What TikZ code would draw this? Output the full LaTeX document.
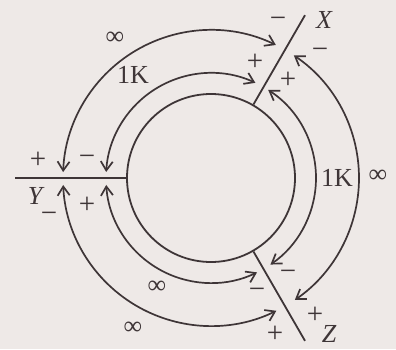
\documentclass[tikz,border=0pt]{standalone}
\usepackage{fontspec}
\setmainfont{Liberation Serif}
\usetikzlibrary{arrows.meta}
\definecolor{ink}{HTML}{3E3537}
\definecolor{paper}{HTML}{EEE9E7}

\begin{document}
\begin{tikzpicture}[
  x=1pt,y=1pt,
  wire/.style={draw=ink,line width=1.8pt},
  dbl/.style={draw=ink,line width=1.7pt,{Straight Barb[length=9pt,width=12pt]}-{Straight Barb[length=9pt,width=12pt]}},
  lab/.style={text=ink,inner sep=0pt,font=\fontsize{26}{30}\selectfont},
  sgn/.style={text=ink,inner sep=0pt,font=\fontsize{29}{32}\selectfont}
]
\fill[paper] (-211,-171) rectangle (185,178);
\useasboundingbox (-211,-171) rectangle (185,178);
% ring and the three terminals
\node[wire,circle,minimum size=168pt,inner sep=0pt] (ring) at (0,0) {};
\draw[wire] (ring.60) -- (60:188pt) coordinate (xend);
\draw[wire] (ring.180) -- (180:196pt) coordinate (yend);
\draw[wire] (ring.-60) -- (-60:188pt) coordinate (zend);
% arc ends
\coordinate (xyo) at (64:148pt);
\coordinate (xyi) at (65:105pt);
\coordinate (xzo) at (56:148pt);
\coordinate (xzi) at (57:105pt);
\coordinate (yzo) at (-177.3:148pt);
\coordinate (yzi) at (-176.2:105pt);
% X to Y
\draw[dbl] (xyo) arc[start angle=64,end angle=177.7,radius=148pt];
\draw[dbl] (xyi) arc[start angle=65,end angle=176.7,radius=105pt];
% X to Z
\draw[dbl] (xzo) arc[start angle=56,end angle=-55.5,radius=148pt];
\draw[dbl] (xzi) arc[start angle=57,end angle=-55.5,radius=105pt];
% Y to Z
\draw[dbl] (yzo) arc[start angle=-177.3,end angle=-63.8,radius=148pt];
\draw[dbl] (yzi) arc[start angle=-176.2,end angle=-64,radius=105pt];
% values
\node[lab] (xyinf) at (-96,140) {∞};
\node[lab] (xyk) at (-78,103) {1K};
\node[lab] (xzk) at (126,0) {1K};
\node[lab] (xzinf) at (167,2) {∞};
\node[lab] (yzinf1) at (-54,-109) {∞};
\node[lab] (yzinf2) at (-78,-150) {∞};
% terminals
\node[lab] (xlab) at (113,158) {\itshape X};
\node[lab] (ylab) at (-176,-18) {\itshape Y};
\node[lab] (zlab) at (118,-156) {\itshape Z};
% signs at Y
\node[sgn] (yp1) at (-173,18) {+};
\node[sgn] (ym1) at (-124,18) {−};
\node[sgn] (ym2) at (-162,-39) {−};
\node[sgn] (yp2) at (-124,-27) {+};
% signs at X
\node[sgn] (xm1) at (67,156) {−};
\node[sgn] (xm2) at (109,125) {−};
\node[sgn] (xp1) at (44,116) {+};
\node[sgn] (xp2) at (77,98) {+};
% signs at Z
\node[sgn] (zm1) at (77,-97) {−};
\node[sgn] (zm2) at (46,-115) {−};
\node[sgn] (zp1) at (104,-137) {+};
\node[sgn] (zp2) at (64,-156) {+};
\end{tikzpicture}
\end{document}
